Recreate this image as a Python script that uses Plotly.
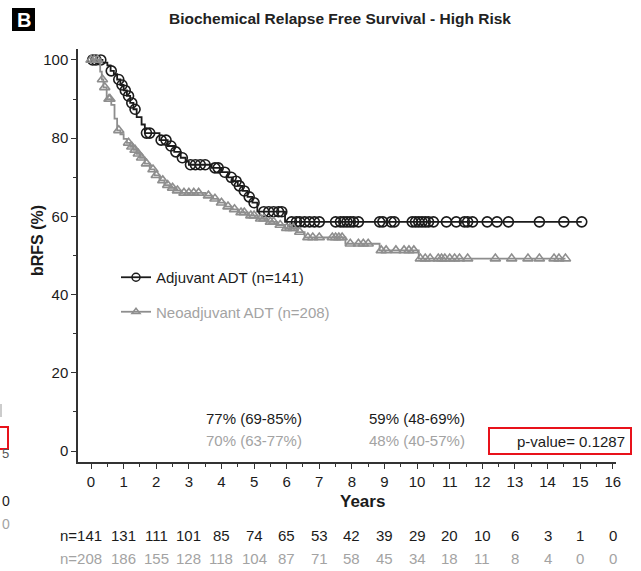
import numpy as np
import plotly.graph_objects as go

# ---- Kaplan-Meier data (years, % relapse free) ----
adj_event_t = [0, 0.35, 0.5, 0.6, 0.7, 0.8, 0.9, 1.0, 1.1, 1.2, 1.3, 1.4, 1.55, 1.65,
               2.1, 2.35, 2.55, 2.75, 2.9, 3.0, 3.7, 4.0, 4.2, 4.35, 4.5, 4.65, 4.8,
               4.95, 5.1, 5.95]
adj_event_s = [100, 99.3, 98.6, 97.2, 96.4, 95, 93.6, 92.2, 90.8, 89, 87.4, 85.4, 83.5,
               81.3, 79.5, 78, 76.5, 75, 74, 73.2, 72.4, 71.3, 70, 69, 67.8, 66.5, 65,
               63.5, 61.2, 58.6]
adj_censor_t = [0.05, 0.15, 0.3, 0.62, 0.85, 0.95, 1.05, 1.15, 1.25, 1.35, 1.7, 1.8,
                2.15, 2.3, 2.45, 2.6, 2.8, 3.05, 3.2, 3.35, 3.5, 3.8, 3.9, 4.1, 4.3,
                4.45, 4.55, 4.7, 4.85, 5.0, 5.3, 5.45, 5.6, 5.75, 5.85, 6.15, 6.3, 6.4,
                6.55, 6.7, 6.85, 7.0, 7.5, 7.65, 7.75, 7.85, 7.95, 8.05, 8.2, 8.85,
                8.95, 9.2, 9.3, 9.85, 9.95, 10.05, 10.15, 10.25, 10.35, 10.5, 10.9,
                11.2, 11.45, 11.55, 11.7, 12.15, 12.45, 12.8, 13.75, 14.5, 15.05]

neo_event_t = [0, 0.28, 0.33, 0.38, 0.48, 0.62, 0.72, 0.8, 0.9, 1.0, 1.1, 1.2, 1.3,
               1.4, 1.5, 1.65, 1.8, 1.95, 2.1, 2.25, 2.4, 2.55, 2.75, 3.5, 3.7, 3.9,
               4.1, 4.3, 4.5, 4.8, 5.1, 5.4, 5.7, 5.95, 6.3, 6.55, 7.8, 8.85, 10.05]
neo_event_s = [100, 97, 95, 93, 90, 88.5, 85, 82, 81, 79.8, 78.8, 77.8, 77, 76, 75,
               73.5, 72, 70.5, 69.2, 68, 67.3, 66.6, 66, 65.3, 64.5, 63.5, 62.5, 61.8,
               61, 60.2, 59.4, 58.6, 57.8, 57, 56, 54.6, 53, 51.3, 49.2]
neo_censor_t = [0.0, 0.1, 0.2, 0.35, 0.42, 0.55, 0.58, 0.85, 1.15, 1.25, 1.35, 1.45,
                1.55, 1.7, 1.9, 2.0, 2.2, 2.35, 2.5, 2.65, 2.85, 3.0, 3.15, 3.3, 3.6,
                3.8, 4.0, 4.2, 4.4, 4.6, 4.7, 4.9, 5.0, 5.2, 5.3, 5.5, 5.6, 5.8, 6.0,
                6.1, 6.2, 6.4, 6.65, 6.8, 7.0, 7.4, 7.5, 7.6, 7.7, 7.95, 8.2, 8.35,
                8.5, 8.9, 9.05, 9.35, 9.6, 9.75, 9.9, 10.1, 10.25, 10.4, 10.65, 10.75,
                10.85, 11.0, 11.15, 11.3, 11.55, 12.4, 12.9, 13.4, 13.75, 14.2, 14.35,
                14.55]

# ---- numbers at risk ----
risk_years = list(range(0, 17))
adj_at_risk = [141, 131, 111, 101, 85, 74, 65, 53, 42, 39, 29, 20, 10, 6, 3, 1, 0]
neo_at_risk = [208, 186, 155, 128, 118, 104, 87, 71, 58, 45, 34, 18, 11, 8, 4, 0, 0]

# ---- 5 / 10 year estimates ----
est_years = [5, 10]
adj_est = ["77% (69-85%)", "59% (48-69%)"]
neo_est = ["70% (63-77%)", "48% (40-57%)"]
p_value = "0.1287"

BLACK = "#1b1b1b"
GREY = "#8e8e8e"
GREY_TXT = "#a3a3a3"
FONT = "Liberation Sans, Arial, sans-serif"

W, H = 641, 571
L, R, T, B = 78, 616, 49, 462  # plot area in pixels


def px_x(px):
    return (px - L) / (R - L)


def px_y(py):
    return (B - py) / (B - T)


def step_curve(evt_t, evt_s, cens_t):
    end = max(max(evt_t), max(cens_t))
    xs = list(evt_t) + [end]
    ys = list(evt_s) + [evt_s[-1]]
    idx = np.searchsorted(np.array(evt_t), np.array(cens_t), side="right") - 1
    cy = [evt_s[i] for i in idx]
    return xs, ys, cy


fig = go.Figure()

for name, et, es, ct, col, sym, msize in [
    ("Adjuvant ADT (n=141)", adj_event_t, adj_event_s, adj_censor_t, BLACK, "circle-open", 10),
    ("<span style='color:%s'>Neoadjuvant ADT (n=208)</span>" % GREY_TXT,
     neo_event_t, neo_event_s, neo_censor_t, GREY, "triangle-up-open", 9),
]:
    xs, ys, cy = step_curve(et, es, ct)
    fig.add_trace(go.Scatter(x=xs, y=ys, mode="lines", line=dict(color=col, width=1.8, shape="hv"),
                             showlegend=False, hoverinfo="skip"))
    fig.add_trace(go.Scatter(x=ct, y=cy, mode="markers",
                             marker=dict(symbol=sym, size=msize, color=col, line=dict(width=1.6, color=col)),
                             showlegend=False, hoverinfo="skip"))
    # legend entry
    fig.add_trace(go.Scatter(x=[None], y=[None], mode="lines+markers", name=name,
                             line=dict(color=col, width=1.8),
                             marker=dict(symbol=sym, size=msize - 2, color=col, line=dict(width=1.5, color=col)),
                             legendgroup=name))

annotations = []
# risk table: first column carries the "n=" prefix, its count sits on the tick
for yr, a, n in zip(risk_years, adj_at_risk, neo_at_risk):
    for val, row_y, col in [(a, 535, BLACK), (n, 558, GREY_TXT)]:
        if yr == 0:
            annotations.append(dict(x=yr, xref="x", y=px_y(row_y), yref="paper", text="n=%d" % val,
                                    showarrow=False, xanchor="right", xshift=13, yanchor="middle",
                                    font=dict(size=15, color=col, family=FONT)))
        else:
            annotations.append(dict(x=yr, xref="x", y=px_y(row_y), yref="paper", text=str(val),
                                    showarrow=False, xanchor="center", yanchor="middle",
                                    font=dict(size=15, color=col, family=FONT)))

# estimates
for yr, a, n in zip(est_years, adj_est, neo_est):
    annotations.append(dict(x=yr, xref="x", y=px_y(418), yref="paper", text=a, showarrow=False,
                            font=dict(size=15, color=BLACK, family=FONT), xanchor="center", yanchor="middle"))
    annotations.append(dict(x=yr, xref="x", y=px_y(440), yref="paper", text=n, showarrow=False,
                            font=dict(size=15, color=GREY_TXT, family=FONT), xanchor="center", yanchor="middle"))

annotations += [
    dict(x=px_x(627), y=px_y(441), xref="paper", yref="paper", text="p-value= " + p_value,
         showarrow=False, xanchor="right", yanchor="middle", font=dict(size=15, color=BLACK, family=FONT)),
    dict(x=px_x(362), y=px_y(501), xref="paper", yref="paper", text="<b>Years</b>",
         showarrow=False, xanchor="center", yanchor="middle", font=dict(size=17, color=BLACK, family=FONT)),
    dict(x=px_x(37), y=px_y(241), xref="paper", yref="paper", text="<b>bRFS (%)</b>", textangle=-90,
         showarrow=False, xanchor="center", yanchor="middle", font=dict(size=16, color=BLACK, family=FONT)),
    dict(x=px_x(340), y=px_y(18), xref="paper", yref="paper",
         text="<b>Biochemical Relapse Free Survival - High Risk</b>",
         showarrow=False, xanchor="center", yanchor="middle", font=dict(size=15.5, color="#222", family=FONT)),
    dict(x=px_x(23.5), y=px_y(19.5), xref="paper", yref="paper", text="<b>B</b>",
         showarrow=False, xanchor="center", yanchor="middle", font=dict(size=20, color="white", family=FONT)),
    # fragments of the neighbouring panel along the left edge
    dict(x=px_x(0), y=px_y(453), xref="paper", yref="paper", text="5", showarrow=False,
         xanchor="left", yanchor="middle", font=dict(size=13, color="#555", family=FONT)),
    dict(x=px_x(0), y=px_y(501), xref="paper", yref="paper", text="0", showarrow=False,
         xanchor="left", yanchor="middle", font=dict(size=14, color=BLACK, family=FONT)),
    dict(x=px_x(0), y=px_y(524), xref="paper", yref="paper", text="0", showarrow=False,
         xanchor="left", yanchor="middle", font=dict(size=14, color=GREY_TXT, family=FONT)),
]

shapes = [
    dict(type="rect", xref="paper", yref="paper", x0=px_x(489), x1=px_x(631), y0=px_y(428), y1=px_y(454),
         line=dict(color="#e8121b", width=2), fillcolor="rgba(0,0,0,0)"),
    dict(type="rect", xref="paper", yref="paper", x0=px_x(12), x1=px_x(35), y0=px_y(8), y1=px_y(31),
         line=dict(width=0), fillcolor="black", layer="below"),
    dict(type="rect", xref="paper", yref="paper", x0=px_x(-10), x1=px_x(8), y0=px_y(427), y1=px_y(449),
         line=dict(color="#e8121b", width=2), fillcolor="rgba(0,0,0,0)"),
    dict(type="line", xref="paper", yref="paper", x0=px_x(1), x1=px_x(1), y0=px_y(404), y1=px_y(417),
         line=dict(color="#bbb", width=1.5)),
]

fig.update_layout(
    width=W, height=H,
    margin=dict(l=L, r=W - R, t=T, b=H - B, pad=0),
    paper_bgcolor="white", plot_bgcolor="white",
    font=dict(family=FONT, size=15, color="#222"),
    showlegend=True,
    legend=dict(x=px_x(116), y=px_y(261), xanchor="left", yanchor="top",
                bgcolor="rgba(0,0,0,0)", font=dict(size=15, color=BLACK, family=FONT),
                tracegroupgap=12, itemwidth=30),
    annotations=annotations,
    shapes=shapes,
    xaxis=dict(range=[-0.4, 16.1], tickmode="array", tickvals=risk_years,
               showline=True, linecolor="#333", linewidth=1.5, ticks="outside", ticklen=5,
               tickcolor="#333", tickwidth=1.3, showgrid=False, zeroline=False,
               tickfont=dict(size=15, color=BLACK, family=FONT),
               minor=dict(tickmode="array", tickvals=[i + 0.5 for i in risk_years[:-1]],
                          ticks="outside", ticklen=3, tickcolor="#333", tickwidth=1.2, showgrid=False)),
    yaxis=dict(range=[-2.8, 102.8], tickmode="array", tickvals=[0, 20, 40, 60, 80, 100],
               showline=True, linecolor="#333", linewidth=1.5, ticks="outside", ticklen=5,
               tickcolor="#333", tickwidth=1.3, showgrid=False, zeroline=False,
               tickfont=dict(size=15, color=BLACK, family=FONT),
               minor=dict(tickmode="array", tickvals=[10, 30, 50, 70, 90],
                          ticks="outside", ticklen=3, tickcolor="#333", tickwidth=1.2, showgrid=False)),
)

fig.write_html("out.html")
